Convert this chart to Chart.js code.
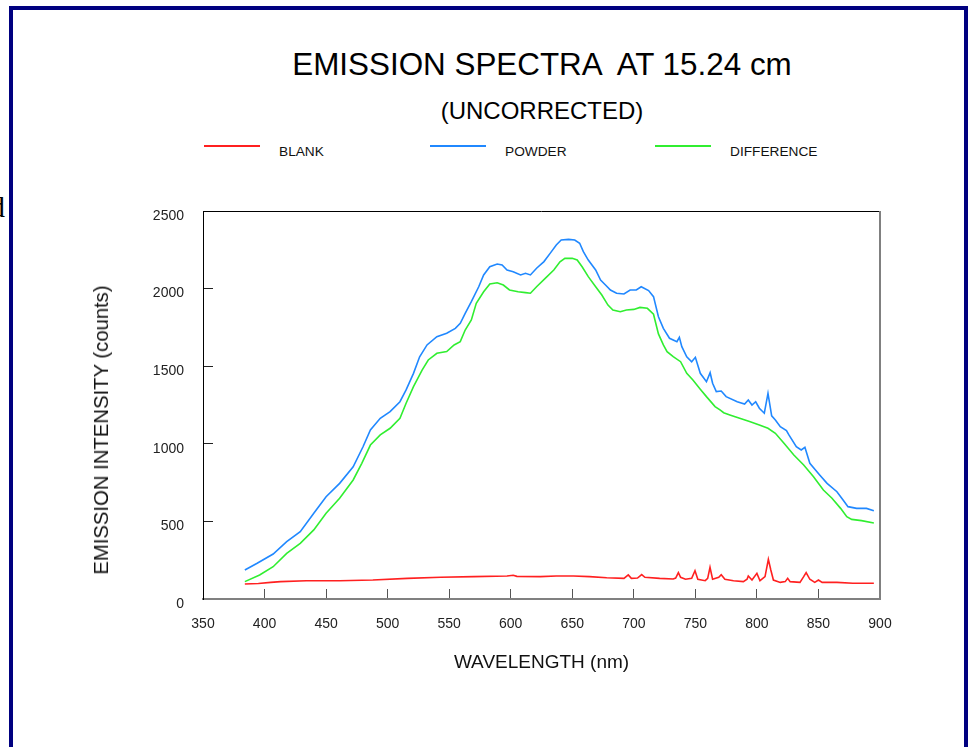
<!DOCTYPE html>
<html>
<head>
<meta charset="utf-8">
<title>Emission spectra</title>
<script src="https://cdn.jsdelivr.net/npm/chart.js@4/dist/chart.umd.min.js"></script>
<style>
  html, body { margin: 0; padding: 0; background: #fff; overflow: hidden; }
  body { width: 970px; height: 747px; position: relative; font-family: 'Liberation Sans', Arial, sans-serif; }
  #frame { position: absolute; left: 9px; top: 6px; width: 959px; height: 800px; box-sizing: border-box; border: 4px solid #000080; }
  #edge { position: absolute; left: -10px; top: 192px; font-family: 'Liberation Serif', serif; font-size: 30px; line-height: 30px; color: #000; }
  .title { position: absolute; left: 0; width: 1084px; text-align: center; color: #000; white-space: pre; }
  #t1 { top: 49px; font-size: 31.4px; line-height: 31.4px; }
  #t2 { top: 99px; font-size: 24px; line-height: 24px; }
  .leg { position: absolute; top: 145px; font-size: 13.7px; line-height: 14px; color: #111; }
  .swatch { position: absolute; top: 145px; width: 56px; height: 2px; }
  #ytitle { position: absolute; left: 101px; top: 430px; transform: translate(-50%, -50%) rotate(-90deg); white-space: nowrap; font-size: 20.3px; line-height: 22px; color: #111; }
  canvas { position: absolute; left: 0; top: 0; }
</style>
</head>
<body>
<div id="frame"></div>
<span id="edge">d</span>
<div class="title" id="t1">EMISSION SPECTRA  AT 15.24 cm</div>
<div class="title" id="t2">(UNCORRECTED)</div>
<div class="swatch" style="left:204px;background:#ff2020"></div>
<div class="leg" style="left:279px">BLANK</div>
<div class="swatch" style="left:430px;background:#2088ff"></div>
<div class="leg" style="left:505px">POWDER</div>
<div class="swatch" style="left:655px;background:#30ee30"></div>
<div class="leg" style="left:730px">DIFFERENCE</div>
<canvas id="chart" width="970" height="747"></canvas>
<div id="ytitle">EMISSION INTENSITY (counts)</div>
<script>
// axis ticks
const wavelengthTicks = [350, 400, 450, 500, 550, 600, 650, 700, 750, 800, 850, 900];
const countTicks = [0, 500, 1000, 1500, 2000, 2500];

// powder spectrum
const powderNm = [384, 394, 407, 418, 429, 440, 450, 461, 472, 480, 486, 494, 502, 510, 515, 521, 526, 532, 540, 548,
  555, 559, 563, 568, 574, 578, 583, 589, 593, 597, 602, 608, 612, 616, 621, 627, 632, 637, 641, 647,
  652, 656, 659, 663, 669, 673, 677, 681, 686, 692, 697, 702, 706, 712, 716, 720, 724, 729, 735, 737,
  739, 743, 747, 750, 754, 759, 762, 764, 767, 771, 775, 784, 790, 793, 796, 799, 802, 806, 809, 812,
  815, 819, 824, 826, 832, 836, 839, 843, 851, 857, 865, 870, 874, 881, 889, 895];
const powderCounts = [187, 230, 290, 369, 434, 552, 659, 745, 852, 981, 1089, 1164, 1207, 1271, 1347, 1454, 1561, 1637, 1690, 1712,
  1744, 1776, 1841, 1916, 2012, 2088, 2141, 2158, 2152, 2120, 2109, 2088, 2099, 2088, 2131, 2174, 2227, 2281, 2313, 2317,
  2313, 2292, 2238, 2184, 2120, 2055, 2023, 1991, 1970, 1965, 1991, 1991, 2012, 1987, 1948, 1819, 1744, 1680, 1658, 1686,
  1626, 1561, 1529, 1557, 1454, 1400, 1458, 1390, 1336, 1340, 1304, 1271, 1256, 1282, 1250, 1271, 1229, 1197, 1325, 1180,
  1153, 1110, 1085, 1057, 981, 960, 977, 874, 799, 745, 691, 638, 595, 584, 584, 569];

// difference spectrum
const diffNm = [384, 396, 407, 418, 429, 440, 450, 461, 472, 479, 486, 494, 502, 510, 515, 521, 528, 533, 540, 548,
  554, 559, 563, 568, 572, 578, 583, 589, 594, 599, 606, 612, 616, 621, 628, 635, 640, 644, 650, 654,
  658, 663, 669, 674, 679, 683, 689, 694, 700, 705, 711, 716, 720, 724, 727, 732, 738, 743, 748, 754,
  759, 766, 770, 773, 778, 786, 794, 802, 809, 815, 822, 830, 838, 846, 854, 861, 868, 873, 877, 885, 895];
const diffCounts = [112, 155, 208, 294, 359, 445, 552, 649, 767, 874, 992, 1057, 1100, 1164, 1261, 1368, 1475, 1540, 1583, 1594,
  1637, 1658, 1733, 1798, 1905, 1980, 2030, 2038, 2023, 1991, 1980, 1974, 1970, 2012, 2066, 2120, 2173, 2195, 2195, 2184,
  2141, 2077, 2012, 1959, 1894, 1862, 1851, 1862, 1866, 1879, 1873, 1835, 1708, 1637, 1594, 1561, 1529, 1454, 1411, 1352,
  1304, 1240, 1218, 1200, 1186, 1164, 1143, 1121, 1100, 1068, 1003, 928, 863, 788, 702, 649, 584, 530, 513, 505, 490];

// blank spectrum
const blankNm = [384, 395, 405, 413, 434, 461, 488, 516, 543, 570, 597, 602, 605, 624, 637, 651, 664, 678, 692, 695.5,
  698, 703, 706.4, 709, 721, 732, 734, 736.2, 738, 742, 747, 749.7, 752, 758, 760, 761.9, 764, 769, 771, 774,
  781, 789, 792, 793, 796, 800, 802.5, 806.6, 809.3, 811.3, 813.4, 819, 823, 825, 827, 835, 838, 840, 843, 847,
  850, 853, 865, 878, 895];
const blankCounts = [97, 100, 107, 112, 118, 118, 122, 133, 140, 144, 148, 153, 146, 144, 148, 148, 144, 137, 133, 155,
  133, 135, 157, 140, 133, 129, 135, 170, 140, 127, 133, 182, 127, 118, 133, 204, 127, 140, 157, 127,
  118, 112, 127, 148, 122, 165, 118, 144, 256, 187, 122, 107, 112, 133, 112, 107, 144, 170, 127, 107,
  122, 107, 107, 101, 101];

const RED = '#ff2020';
const BLUE = '#2088ff';
const GREEN = '#30ee30';
const FONT = 'Liberation Sans, Arial, sans-serif';

function pts(xs, ys) {
  return xs.map((x, i) => ({ x: x, y: ys[i] }));
}

// top and right edges of the plot box
const plotBox = {
  id: 'plotBox',
  afterDraw(chart) {
    const { ctx, chartArea: a } = chart;
    ctx.save();
    ctx.lineWidth = 1;
    ctx.strokeStyle = '#000';
    ctx.beginPath();
    ctx.moveTo(a.left, a.top + 0.5);
    ctx.lineTo(a.right, a.top + 0.5);
    ctx.stroke();
    ctx.lineWidth = 2;
    ctx.strokeStyle = '#808080';
    ctx.beginPath();
    ctx.moveTo(a.right, a.top);
    ctx.lineTo(a.right, a.bottom);
    ctx.stroke();
    ctx.restore();
  }
};

const lineStyle = { borderWidth: 1.6, pointRadius: 0, tension: 0, fill: false };

new Chart(document.getElementById('chart'), {
  type: 'line',
  data: {
    datasets: [
      { label: 'BLANK', data: pts(blankNm, blankCounts), borderColor: RED, ...lineStyle },
      { label: 'POWDER', data: pts(powderNm, powderCounts), borderColor: BLUE, ...lineStyle },
      { label: 'DIFFERENCE', data: pts(diffNm, diffCounts), borderColor: GREEN, ...lineStyle },
    ],
  },
  options: {
    responsive: false,
    animation: false,
    devicePixelRatio: 1,
    layout: { padding: { top: 211, right: 90, bottom: 0, left: 0 } },
    plugins: {
      legend: { display: false },
      title: { display: false },
      tooltip: { enabled: false },
    },
    scales: {
      x: {
        type: 'linear',
        min: 350,
        max: 900,
        afterBuildTicks: s => { s.ticks = wavelengthTicks.map(v => ({ value: v })); },
        afterFit: s => { s.height = 148; },
        grid: { drawOnChartArea: false, drawTicks: true, tickLength: -10, color: '#555' },
        border: { color: '#808080', width: 2 },
        ticks: { padding: 27, color: '#222', maxRotation: 0, autoSkip: false, font: { family: FONT, size: 14 }, callback: v => String(v) },
        title: { display: true, text: 'WAVELENGTH (nm)', color: '#111', font: { family: FONT, size: 19 }, padding: { top: 0, bottom: 73 } },
      },
      y: {
        type: 'linear',
        min: 0,
        max: 2500,
        afterBuildTicks: s => { s.ticks = countTicks.map(v => ({ value: v })); },
        afterFit: s => { s.width = 203; },
        grid: { drawOnChartArea: false, drawTicks: true, tickLength: -10, color: '#222' },
        border: { color: '#000', width: 1 },
        ticks: { padding: 29, labelOffset: 5, color: '#222', font: { family: FONT, size: 14 }, callback: v => String(v) },
        title: { display: false },
      },
    },
  },
  plugins: [plotBox],
});
</script>
</body>
</html>
